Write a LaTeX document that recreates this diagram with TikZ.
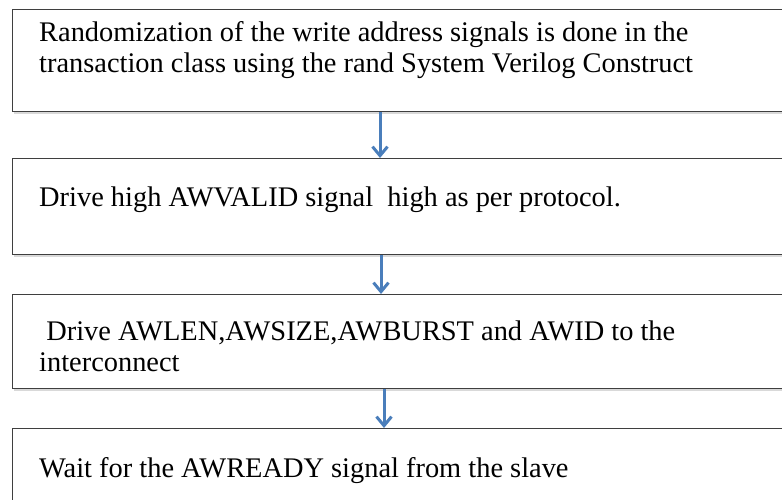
\documentclass[tikz,border=0pt]{standalone}
\usepackage{fontspec}
\setmainfont{Liberation Serif}
\usetikzlibrary{positioning,arrows.meta,shadows}
\definecolor{flowblue}{HTML}{4A7EBB}
\definecolor{boxline}{HTML}{3F3F3F}

\begin{document}
\begin{tikzpicture}[x=1pt, y=-1pt, >={Straight Barb[length=9pt,width=15pt]},
		stepbox/.style={draw=boxline, line width=1.3pt, fill=white, anchor=north west,
			minimum width=800pt, inner sep=0pt,
			drop shadow={shadow xshift=1pt, shadow yshift=-2pt, opacity=0.3}},
		steptext/.style={anchor=base west, inner sep=0pt, align=left,
			font=\fontsize{28.4}{31}\selectfont},
		flow/.style={->, draw=flowblue, line width=3pt}]
		\useasboundingbox (0,0) rectangle (782,500);
		\clip (0,0) rectangle (782,500);

		\node[stepbox, minimum height=102pt] (b1) at (12,9) {};
		\node[stepbox, minimum height=96pt] (b2) at (12,158) {};
		\node[stepbox, minimum height=94pt] (b3) at (12,294) {};
		\node[stepbox, minimum height=100pt] (b4) at (12,428) {};

		% base of a two-line node is its last line
		\node[steptext] (t1) at (39,73) {Randomization of the write address signals is done in the\\transaction class using the rand System Verilog Construct};
		\node[steptext] (t2) at (39,207) {Drive high AWVALID signal\ \ high as per protocol.};
		\node[steptext] (t3) at (39,371) {\ Drive AWLEN,AWSIZE,AWBURST and AWID to the\\interconnect};
		\node[steptext] (t4) at (39,477) {Wait for the AWREADY signal from the slave};

		\draw[flow] ([xshift=368pt]b1.south west) -- ([xshift=368pt]b2.north west);
		\draw[flow] ([xshift=369pt]b2.south west) -- ([xshift=369pt]b3.north west);
		\draw[flow] ([xshift=372pt]b3.south west) -- ([xshift=372pt]b4.north west);
	\end{tikzpicture}
\end{document}
